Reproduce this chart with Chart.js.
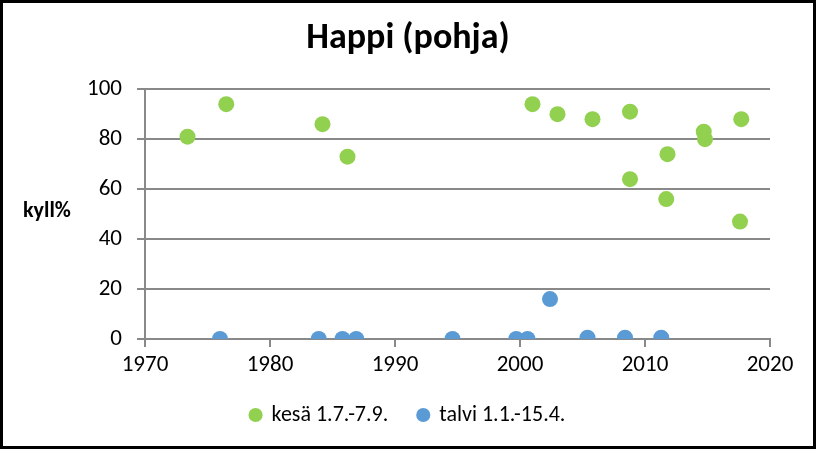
<!DOCTYPE html>
<html>
<head>
<meta charset="utf-8">
<script src="https://cdn.jsdelivr.net/npm/chart.js@4/dist/chart.umd.min.js"></script>
<style>
  html, body { margin: 0; padding: 0; background: #fff; }
  #wrap {
    width: 816px; height: 449px; box-sizing: border-box;
    border: 3px solid #000; background: #fff;
  }
  canvas { display: block; }
</style>
</head>
<body>
<div id="wrap"><canvas id="chart" width="810" height="443"></canvas></div>
<script>
const title = "Happi (pohja)";
const yLabel = "kyll%";

// kesä 1.7.-7.9.
const kesaYears = [1973.4, 1976.5, 1984.2, 1986.2, 2001.0, 2003.0, 2005.8, 2008.8, 2008.8, 2011.8, 2011.7, 2014.7, 2014.8, 2017.7, 2017.6];
const kesaValues = [81, 94, 86, 73, 94, 90, 88, 91, 64, 74, 56, 83, 80, 88, 47];

// talvi 1.1.-15.4.
const talviYears = [1976.0, 1983.9, 1985.8, 1986.9, 1994.6, 1999.7, 2000.6, 2002.4, 2005.4, 2008.4, 2011.3];
const talviValues = [0, 0, 0, 0, 0, 0, 0, 16, 0.5, 0.5, 0.5];

const seriesNames = ["kesä 1.7.-7.9.", "talvi 1.1.-15.4."];
const xTicks = [1970, 1980, 1990, 2000, 2010, 2020];
const yTicks = [0, 20, 40, 60, 80, 100];

const FONT = "Carlito, Lato, 'Liberation Sans', sans-serif";
const GRID = "#898989";

const toPoints = (xs, ys) => xs.map((x, i) => ({ x: x, y: ys[i] }));

// horizontal axis title on the left
const yTitlePlugin = {
  id: "yTitle",
  afterDraw(chart) {
    const ctx = chart.ctx;
    const y = (chart.chartArea.top + chart.chartArea.bottom) / 2 - 3;
    ctx.save();
    ctx.font = "bold 22px " + FONT;
    ctx.fillStyle = "#000";
    ctx.textAlign = "left";
    ctx.textBaseline = "middle";
    ctx.fillText(yLabel, 20, y);
    ctx.restore();
  },
};

new Chart(document.getElementById("chart").getContext("2d"), {
  type: "scatter",
  data: {
    datasets: [
      {
        label: seriesNames[0],
        data: toPoints(kesaYears, kesaValues),
        backgroundColor: "#92D050",
        borderColor: "#92D050",
        pointRadius: 8,
        pointHoverRadius: 8,
        borderWidth: 0,
      },
      {
        label: seriesNames[1],
        data: toPoints(talviYears, talviValues),
        backgroundColor: "#5B9BD5",
        borderColor: "#5B9BD5",
        pointRadius: 8,
        pointHoverRadius: 8,
        borderWidth: 0,
      },
    ],
  },
  options: {
    responsive: false,
    animation: false,
    layout: { padding: { left: 0, right: 0, top: 0, bottom: 10 } },
    plugins: {
      title: {
        display: true,
        text: title,
        color: "#000",
        font: { family: FONT, size: 36, weight: "bold" },
        padding: { top: 14, bottom: 29 },
      },
      legend: {
        position: "bottom",
        labels: {
          color: "#000",
          font: { family: FONT, size: 22 },
          usePointStyle: true,
          pointStyle: "circle",
          boxWidth: 10,
          boxHeight: 10,
          padding: 30,
        },
      },
      tooltip: { enabled: false },
    },
    scales: {
      x: {
        type: "linear",
        min: xTicks[0],
        max: xTicks[xTicks.length - 1],
        afterBuildTicks: (s) => { s.ticks = xTicks.map((v) => ({ value: v })); },
        afterFit: (s) => { s.height = 35; },
        ticks: {
          color: "#000",
          font: { family: FONT, size: 23 },
          padding: 4,
          maxRotation: 0,
          callback: (v) => String(v),
        },
        grid: { drawOnChartArea: false, drawTicks: true, tickLength: 8, color: GRID, lineWidth: 2 },
        border: { color: GRID, width: 2 },
      },
      y: {
        min: yTicks[0],
        max: yTicks[yTicks.length - 1],
        afterBuildTicks: (s) => { s.ticks = yTicks.map((v) => ({ value: v })); },
        afterFit: (s) => { s.width = 142; },
        ticks: { color: "#000", font: { family: FONT, size: 23 }, padding: 15 },
        grid: { color: GRID, lineWidth: 2, tickLength: 8 },
        border: { color: GRID, width: 2 },
      },
      // empty right-hand spacer so the plot ends where the reference does
      spacer: {
        position: "right",
        min: 0,
        max: 1,
        afterFit: (s) => { s.width = 43; },
        ticks: { display: false },
        grid: { display: false },
        border: { display: false },
      },
    },
  },
  plugins: [yTitlePlugin],
});
</script>
</body>
</html>
